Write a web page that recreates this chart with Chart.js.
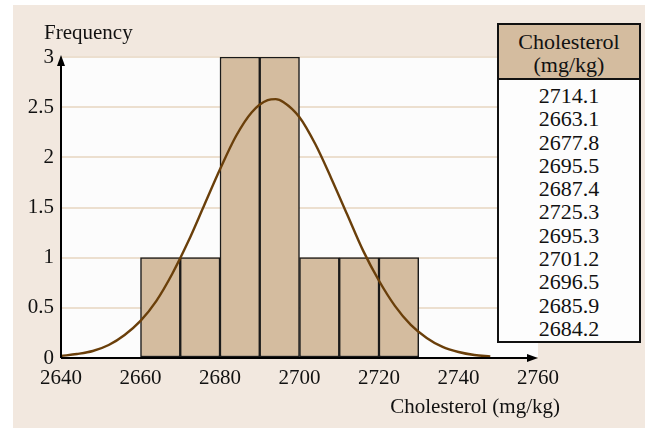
<!DOCTYPE html>
<html>
<head>
<meta charset="utf-8">
<script src="https://cdn.jsdelivr.net/npm/chart.js@4/dist/chart.umd.min.js"></script>
<style>
  html,body{margin:0;padding:0;background:#fff;}
  #wrap{position:relative;width:654px;height:430px;}
  #c{position:absolute;left:0;top:0;}
  #tbl{position:absolute;left:497px;top:23px;width:140px;border:2px solid #111;background:#fdfdfd;
       font-family:"Liberation Serif","Times New Roman",serif;font-size:22px;color:#111;text-align:center;}
  #tbl .hd{background:#d4bc9f;border-bottom:2px solid #111;height:55px;line-height:23px;padding-top:5px;box-sizing:border-box;}
  #tbl .bd{padding:4px 0 1px 0;line-height:23.3px;}
</style>
</head>
<body>
<div id="wrap">
  <canvas id="c" width="654" height="430"></canvas>
  <div id="tbl"><div class="hd" id="hd"></div><div class="bd" id="bd"></div></div>
</div>
<script>
// ---- data ----
const tableHeader = ["Cholesterol", "(mg/kg)"];
const cholesterol = [2714.1, 2663.1, 2677.8, 2695.5, 2687.4, 2725.3, 2695.3, 2701.2, 2696.5, 2685.9, 2684.2];
const binCenters = [2665, 2675, 2685, 2695, 2705, 2715, 2725];
const binCounts  = [1, 1, 3, 3, 1, 1, 1];
const curveX = [2640,2644,2648,2652,2656,2660,2664,2668,2672,2676,2680,2684,2688,2692,2694,2696,2700,2704,2708,2712,2716,2720,2724,2728,2732,2736,2740,2744,2748];
const curveY = [0.02,0.04,0.07,0.13,0.23,0.37,0.57,0.84,1.16,1.52,1.88,2.21,2.45,2.57,2.58,2.55,2.40,2.13,1.79,1.43,1.07,0.77,0.52,0.33,0.20,0.11,0.06,0.03,0.015];
const xTicks = [2640, 2660, 2680, 2700, 2720, 2740, 2760];
const yTicks = ["0", "0.5", "1", "1.5", "2", "2.5", "3"];
const yTitle = "Frequency";
const xTitle = "Cholesterol (mg/kg)";

// ---- table ----
document.getElementById('hd').innerHTML = tableHeader.map(s => '<div>' + s + '</div>').join('');
document.getElementById('bd').innerHTML = cholesterol.map(v => '<div>' + v.toFixed(1) + '</div>').join('');

const FONT = '"Liberation Serif","Times New Roman",serif';

const decor = {
  id: 'decor',
  beforeDraw(chart) {
    const ctx = chart.ctx, a = chart.chartArea;
    ctx.save();
    ctx.fillStyle = '#ffffff';
    ctx.fillRect(0, 0, chart.width, chart.height);
    ctx.fillStyle = '#f2e8df';
    ctx.fillRect(13, 5, 632, 423);
    ctx.fillStyle = '#fcfcfc';
    ctx.fillRect(a.left, a.top, a.right - a.left, a.bottom - a.top);
    ctx.restore();
  },
  afterDraw(chart) {
    const ctx = chart.ctx, a = chart.chartArea;
    ctx.save();
    ctx.strokeStyle = '#000';
    ctx.fillStyle = '#000';
    ctx.lineWidth = 2;
    ctx.beginPath();
    ctx.moveTo(a.left, a.bottom);
    ctx.lineTo(a.left, a.top + 6);
    ctx.moveTo(a.left, a.bottom);
    ctx.lineTo(a.right - 8, a.bottom);
    ctx.stroke();
    // arrows
    ctx.beginPath();
    ctx.moveTo(a.left, a.top - 2);
    ctx.lineTo(a.left - 4, a.top + 9);
    ctx.lineTo(a.left + 4, a.top + 9);
    ctx.closePath();
    ctx.fill();
    ctx.beginPath();
    ctx.moveTo(a.right, a.bottom);
    ctx.lineTo(a.right - 11, a.bottom - 4);
    ctx.lineTo(a.right - 11, a.bottom + 4);
    ctx.closePath();
    ctx.fill();
    // titles
    ctx.font = '21px ' + FONT;
    ctx.fillStyle = '#111';
    ctx.textBaseline = 'alphabetic';
    ctx.textAlign = 'left';
    ctx.fillText(yTitle, 44, 39);
    ctx.textAlign = 'right';
    ctx.fillText(xTitle, 560, 413);
    ctx.restore();
  }
};

new Chart(document.getElementById('c'), {
  data: {
    datasets: [
      {
        type: 'line',
        data: curveX.map((x, i) => ({x: x, y: curveY[i]})),
        borderColor: '#6a3f0a',
        borderWidth: 2.4,
        pointRadius: 0,
        fill: false,
        cubicInterpolationMode: 'monotone',
        order: 1
      },
      {
        type: 'bar',
        data: binCenters.map((x, i) => ({x: x, y: binCounts[i]})),
        backgroundColor: '#d4bc9f',
        borderColor: '#1a1a1a',
        borderWidth: 1.5,
        borderSkipped: false,
        barPercentage: 1,
        categoryPercentage: 1,
        order: 2
      }
    ]
  },
  options: {
    responsive: false,
    animation: false,
    layout: {padding: {left: 0, top: 57, right: 116, bottom: 0}},
    plugins: {legend: {display: false}, tooltip: {enabled: false}},
    scales: {
      x: {
        type: 'linear', min: 2640, max: 2760, offset: false,
        afterBuildTicks: s => { s.ticks = xTicks.map(v => ({value: v})); },
        ticks: {font: {family: FONT, size: 21}, color: '#111', padding: 8, maxRotation: 0, callback: v => String(v)},
        grid: {display: false, drawTicks: false, offset: false},
        border: {display: false},
        afterFit: s => { s.height = 72; }
      },
      y: {
        min: 0, max: 3,
        afterBuildTicks: s => { s.ticks = yTicks.map(t => ({value: parseFloat(t)})); },
        ticks: {font: {family: FONT, size: 21}, color: '#111', padding: 7, callback: (v, i) => yTicks[i]},
        grid: {color: '#ecdfcf', lineWidth: 2, drawTicks: false},
        border: {display: false},
        afterFit: s => { s.width = 61; }
      }
    }
  },
  plugins: [decor]
});
</script>
</body>
</html>
